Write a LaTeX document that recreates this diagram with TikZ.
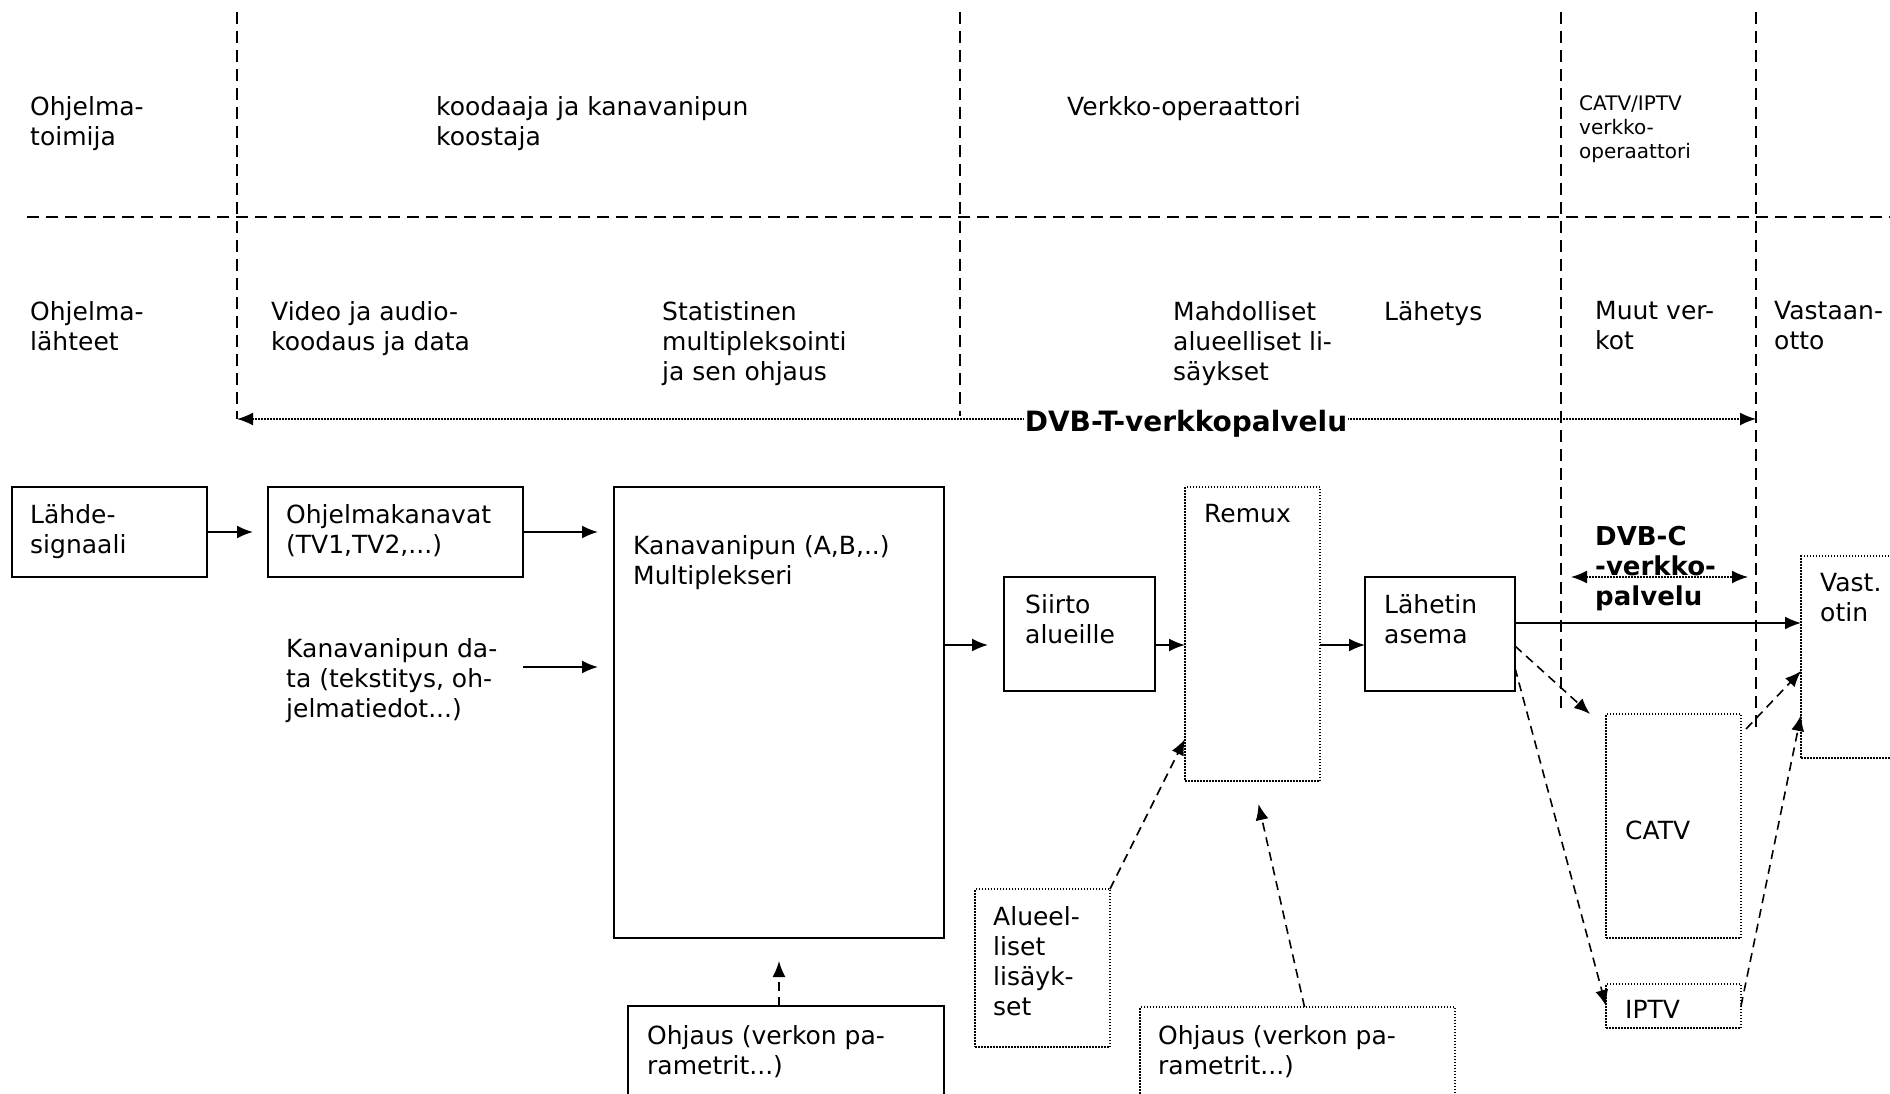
\documentclass[tikz,border=0pt]{standalone}
\usepackage{fontspec}
\setmainfont{DejaVu Sans}
\usetikzlibrary{arrows.meta}

\tikzset{
  box/.style={draw, line width=1.8pt, anchor=north west, inner sep=0pt, outer sep=0pt},
  dotbox/.style={box, line width=1.5pt, dash pattern=on 1.5pt off 1.5pt},
  txt/.style={anchor=north west, align=left, inner sep=0pt},
  small/.style={font=\fontsize{20}{24}\selectfont},
  bold/.style={font=\bfseries\fontsize{26}{30}\selectfont},
  arr/.style={line width=1.8pt, -{Latex[length=16pt,width=13pt]}},
  darr/.style={line width=1.6pt, dash pattern=on 9pt off 6pt, -{Latex[length=16pt,width=13pt]}},
  dotarr/.style={line width=1.5pt, dash pattern=on 1.5pt off 1.5pt, {Latex[length=16pt,width=13pt]}-{Latex[length=16pt,width=13pt]}},
  sep/.style={line width=1.5pt, dash pattern=on 12pt off 7pt},
}

\begin{document}
\begin{tikzpicture}[x=1pt, y=-1pt, font=\fontsize{25}{30}\selectfont]
            \useasboundingbox (0,0) rectangle (1890,1094);
            \clip (0,0) rectangle (1890,1094);
            % lanes
            \draw[sep] (27,217) -- (1890,217);
            \draw[sep] (237,12) -- (237,419);
            \draw[sep] (960,12) -- (960,416);
            \draw[sep] (1561,12) -- (1561,713);
            \draw[sep] (1756,12) -- (1756,731);
            % actors
            \node[txt] (toimija) at (30,96) {Ohjelma-\\toimija};
            \node[txt] (koostaja) at (436,96) {koodaaja ja kanavanipun\\koostaja};
            \node[txt] (operaattori) at (1067,96) {Verkko-operaattori};
            \node[txt, small] (catvop) at (1579,95) {CATV/IPTV\\verkko-\\operaattori};
            % phases
            \node[txt] (lahteet) at (30,301) {Ohjelma-\\lähteet};
            \node[txt] (koodaus) at (271,301) {Video ja audio-\\koodaus ja data};
            \node[txt] (statmux) at (662,301) {Statistinen\\multipleksointi\\ja sen ohjaus};
            \node[txt] (lisaykset) at (1173,301) {Mahdolliset\\alueelliset li-\\säykset};
            \node[txt] (lahetys) at (1384,301) {Lähetys};
            \node[txt] (muut) at (1595,301) {Muut ver-\\kot};
            \node[txt] (vastaanotto) at (1774,301) {Vastaan-\\otto};
            % DVB-T service
            \draw[dotarr] (237,419) -- (1756,419);
            \node[bold, font=\bfseries\fontsize{28}{30}\selectfont, fill=white, inner sep=1pt] (dvbt) at (1186,424) {DVB-T-verkkopalvelu};
            % blocks
            \node[box, minimum width=195, minimum height=90] (lahde) at (12,487) {};
            \node[txt] at (30,504) {Lähde-\\signaali};
            \node[box, minimum width=255, minimum height=90] (kanavat) at (268,487) {};
            \node[txt] at (286,504) {Ohjelmakanavat\\(TV1,TV2,...)};
            \node[txt] (data) at (286,638) {Kanavanipun da-\\ta (tekstitys, oh-\\jelmatiedot...)};
            \node[box, minimum width=330, minimum height=451] (mux) at (614,487) {};
            \node[txt] at (633,535) {Kanavanipun (A,B,..)\\Multiplekseri};
            \node[box, minimum width=316, minimum height=110] (ohjaus) at (628,1006) {};
            \node[txt] at (647,1025) {Ohjaus (verkon pa-\\rametrit...)};
            \node[box, minimum width=151, minimum height=114] (siirto) at (1004,577) {};
            \node[txt] at (1025,594) {Siirto\\alueille};
            \node[dotbox, minimum width=135, minimum height=294] (remux) at (1185,487) {};
            \node[txt] at (1204,504) {Remux};
            \node[dotbox, minimum width=135, minimum height=158] (alue) at (975,889) {};
            \node[txt] at (993,906) {Alueel-\\liset\\lisäyk-\\set};
            \node[dotbox, minimum width=315, minimum height=110] (ohjaus2) at (1140,1007) {};
            \node[txt] at (1158,1025) {Ohjaus (verkon pa-\\rametrit...)};
            \node[box, minimum width=150, minimum height=114] (lahetin) at (1365,577) {};
            \node[txt] at (1384,594) {Lähetin\\asema};
            \node[dotbox, minimum width=135, minimum height=224] (catv) at (1606,714) {};
            \node[txt] at (1625,821) {CATV};
            \node[dotbox, minimum width=135, minimum height=44] (iptv) at (1606,984) {};
            \node[txt] at (1625,1000) {IPTV};
            \node[dotbox, minimum width=120, minimum height=202] (vast) at (1801,556) {};
            \node[txt] at (1820,573) {Vast.\\otin};
            % DVB-C service
            \draw[dotarr] (1571,577) -- (1748,577);
            \node[txt, bold] (dvbc) at (1595,526) {DVB-C\\-verkko-\\palvelu};
            % connectors
            \coordinate (datain) at (523,667);
            \draw[arr, shorten >=15pt] (lahde.east) -- (kanavat.west);
            \draw[arr, shorten >=16pt] (kanavat.east) -- (kanavat.east -| mux.west);
            \draw[arr, shorten >=16pt] (datain) -- (datain -| mux.west);
            \draw[arr, shorten >=16pt] ([yshift=-11pt]mux.east |- siirto.west) -- ([yshift=-11pt]siirto.west);
            \draw[arr] ([yshift=-11pt]siirto.east) -- ([yshift=-11pt]siirto.east -| remux.west);
            \draw[arr] ([yshift=-11pt]lahetin.west -| remux.east) -- ([yshift=-11pt]lahetin.west);
            \draw[arr] ([yshift=11pt]lahetin.east) -- ([yshift=11pt]lahetin.east -| vast.west);
            \draw[darr, shorten >=23pt] ([xshift=-7pt]ohjaus.north) -- (mux.south);
            \draw[darr] (alue.north east) -- ([yshift=-105pt]remux.west);
            \draw[darr] ([xshift=7pt]ohjaus2.north) -- ([shift={(6pt,-23pt)}]remux.south);
            \draw[darr] ([yshift=-12pt]lahetin.east) -- ([xshift=-16pt]catv.north west);
            \draw[darr] ([yshift=-34pt]lahetin.east) -- (iptv.west);
            \draw[darr] ([shift={(5pt,-15pt)}]catv.north east) -- ([yshift=-14pt]vast.west);
            \draw[darr] (iptv.east) -- ([yshift=-58pt]vast.west);
        \end{tikzpicture}
\end{document}
